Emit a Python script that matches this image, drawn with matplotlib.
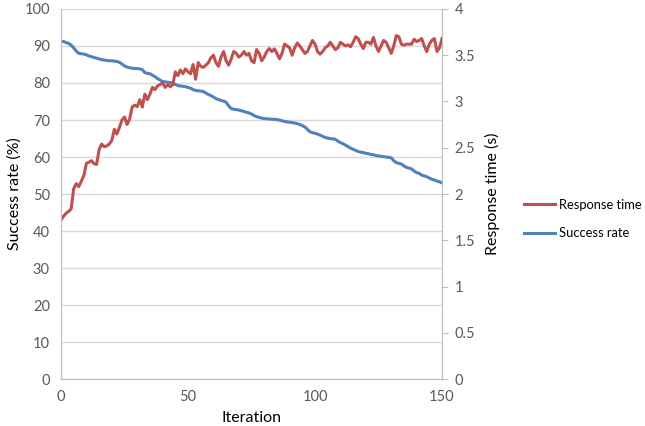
import matplotlib
matplotlib.use("Agg")
import matplotlib.pyplot as plt
import numpy as np

plt.rcParams['font.family'] = ['Lato', 'DejaVu Sans']

# success rate (%) per iteration, left axis
success_rate = [
    91.3, 91.2, 90.9, 90.7, 90.2, 89.5, 88.6, 88.0, 87.9, 87.8,
    87.6, 87.3, 87.1, 86.9, 86.7, 86.5, 86.3, 86.2, 86.1, 86.0,
    86.0, 85.9, 85.8, 85.6, 85.1, 84.6, 84.3, 84.1, 84.0, 83.9,
    83.9, 83.8, 83.6, 82.8, 82.6, 82.5, 82.1, 81.7, 81.2, 80.8,
    80.4, 80.3, 80.2, 80.1, 79.9, 79.6, 79.3, 79.2, 79.1, 79.0,
    78.8, 78.6, 78.2, 78.0, 77.9, 77.8, 77.7, 77.3, 76.9, 76.6,
    76.2, 75.8, 75.5, 75.3, 75.1, 74.8, 73.8, 73.1, 72.9, 72.8,
    72.7, 72.5, 72.3, 72.1, 71.9, 71.6, 71.2, 70.9, 70.7, 70.5,
    70.4, 70.3, 70.3, 70.2, 70.2, 70.1, 70.0, 69.8, 69.6, 69.5,
    69.4, 69.3, 69.2, 69.0, 68.8, 68.5, 68.1, 67.5, 66.8, 66.6,
    66.4, 66.2, 65.9, 65.6, 65.3, 65.1, 65.0, 64.9, 64.8, 64.3,
    63.9, 63.6, 63.2, 62.8, 62.4, 62.1, 61.8, 61.5, 61.3, 61.2,
    61.0, 60.9, 60.7, 60.6, 60.4, 60.3, 60.2, 60.1, 60.0, 59.9,
    59.8, 59.0, 58.5, 58.3, 58.1, 57.6, 57.2, 57.0, 56.8, 56.2,
    55.8, 55.6, 55.1, 54.9, 54.7, 54.3, 54.0, 53.8, 53.5, 53.3,
    53.0,
]

# response time (s) per iteration, right axis
response_time = [
    1.720, 1.760, 1.792, 1.812, 1.840, 2.060, 2.112, 2.080, 2.140, 2.200,
    2.332, 2.344, 2.360, 2.328, 2.320, 2.480, 2.540, 2.512, 2.520, 2.540,
    2.580, 2.700, 2.648, 2.720, 2.800, 2.832, 2.752, 2.808, 2.940, 2.960,
    2.944, 3.020, 2.940, 3.080, 3.020, 3.080, 3.152, 3.128, 3.168, 3.184,
    3.200, 3.152, 3.180, 3.160, 3.180, 3.320, 3.280, 3.340, 3.300, 3.352,
    3.320, 3.300, 3.400, 3.240, 3.420, 3.380, 3.368, 3.392, 3.420, 3.472,
    3.500, 3.420, 3.380, 3.480, 3.540, 3.440, 3.392, 3.460, 3.540, 3.520,
    3.480, 3.500, 3.540, 3.500, 3.520, 3.440, 3.420, 3.560, 3.520, 3.440,
    3.480, 3.540, 3.572, 3.540, 3.568, 3.520, 3.460, 3.520, 3.620, 3.600,
    3.580, 3.500, 3.580, 3.632, 3.600, 3.560, 3.520, 3.540, 3.600, 3.660,
    3.620, 3.540, 3.512, 3.540, 3.580, 3.600, 3.640, 3.600, 3.560, 3.580,
    3.640, 3.620, 3.600, 3.612, 3.592, 3.640, 3.700, 3.680, 3.620, 3.572,
    3.640, 3.640, 3.620, 3.692, 3.600, 3.540, 3.600, 3.660, 3.640, 3.580,
    3.520, 3.600, 3.712, 3.700, 3.620, 3.608, 3.620, 3.620, 3.620, 3.672,
    3.648, 3.660, 3.680, 3.600, 3.540, 3.620, 3.660, 3.680, 3.540, 3.580,
    3.680,
]

iteration = np.arange(len(success_rate))

grey = '#595959'
red = '#C0504D'
blue = '#4F81BD'

fig = plt.figure(figsize=(6.45, 4.26), dpi=100)
ax = fig.add_axes([0.0946, 0.110, 0.5907, 0.869])
ax2 = ax.twinx()

line_s, = ax.plot(iteration, success_rate, color=blue, lw=2.2, label='Success rate')
line_r, = ax2.plot(iteration, response_time, color=red, lw=2.2, label='Response time')

ax.set_xlim(0, 150)
ax.set_ylim(0, 100)
ax2.set_ylim(0, 4)
ax.set_xticks([0, 50, 100, 150])
ax.set_yticks(np.arange(0, 101, 10))
ax2.set_yticks(np.arange(0, 4.01, 0.5))
ax2.set_yticklabels(['0', '0.5', '1', '1.5', '2', '2.5', '3', '3.5', '4'])

ax.yaxis.grid(True, color='#D9D9D9', lw=1)
ax.set_axisbelow(True)

for a in (ax, ax2):
    for s in a.spines.values():
        s.set_color('#BFBFBF')
    a.spines['top'].set_visible(False)

ax.tick_params(axis='both', length=0, colors=grey, labelsize=10.5, pad=8)
ax2.tick_params(axis='y', length=4, colors=grey, labelsize=10.5, pad=5)
ax2.tick_params(axis='y', color='#BFBFBF')

ax.set_xlabel('Iteration', fontsize=11.5, labelpad=5)
ax.set_ylabel('Success rate (%)', fontsize=11.5, labelpad=2)
ax2.set_ylabel('Response time (s)', fontsize=11.5, labelpad=7)

fig.legend(handles=[line_r, line_s], loc='center left',
           bbox_to_anchor=(0.812, 0.486), frameon=False, fontsize=9.3,
           handlelength=2.4, handletextpad=0.35, labelspacing=1.3,
           borderaxespad=0, borderpad=0)

fig.savefig('out.png', dpi=100)
